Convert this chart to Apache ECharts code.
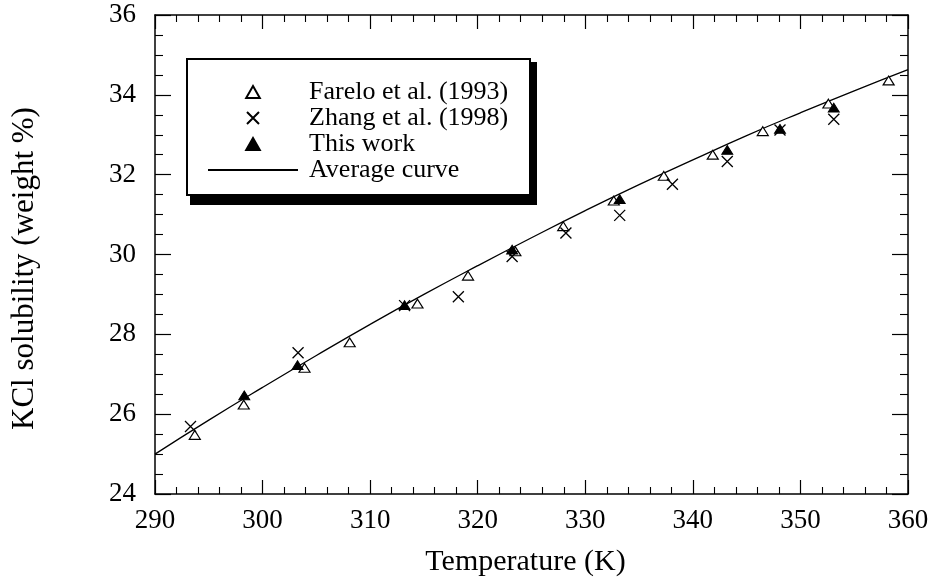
<!DOCTYPE html>
<html>
<head>
<meta charset="utf-8">
<script src="https://cdn.jsdelivr.net/npm/echarts@6/dist/echarts.min.js"></script>
<style>
  html, body { margin: 0; padding: 0; background: #fff; }
  #chart { width: 937px; height: 583px; }
</style>
</head>
<body>
<div id="chart"></div>
<script>
// KCl solubility in water versus temperature
const fareloT = [293.7, 298.25, 303.9, 308.1, 314.4, 319.1, 323.5, 327.95, 332.65, 337.3, 341.85, 346.5, 352.6, 358.2];
const fareloS = [25.48, 26.24, 27.16, 27.80, 28.77, 29.47, 30.08, 30.71, 31.35, 31.97, 32.50, 33.09, 33.78, 34.36];

const zhangT = [293.3, 303.3, 313.2, 318.2, 323.2, 328.2, 333.2, 338.1, 343.2, 348.1, 353.1];
const zhangS = [25.69, 27.54, 28.72, 28.94, 29.95, 30.54, 30.98, 31.76, 32.33, 33.12, 33.39];

const workT = [298.3, 303.25, 313.2, 323.2, 333.2, 343.2, 348.1, 353.1];
const workS = [26.47, 27.23, 28.73, 30.12, 31.39, 32.62, 33.15, 33.68];

const curveT = [290, 295, 300, 305, 310, 315, 320, 325, 330, 335, 340, 345, 350, 355, 360];
const curveS = [25.00, 25.85, 26.67, 27.47, 28.25, 29.00, 29.72, 30.42, 31.10, 31.75, 32.37, 32.98, 33.55, 34.10, 34.63];

const xTicks = [290, 300, 310, 320, 330, 340, 350, 360];
const yTicks = [24, 26, 28, 30, 32, 34, 36];

const seriesNames = ['Farelo et al. (1993)', 'Zhang et al. (1998)', 'This work', 'Average curve'];

const zip = (xs, ys) => xs.map((x, i) => [x, ys[i]]);

const FONT = '"Liberation Serif", "Times New Roman", serif';
const INK = '#000';
const TRIANGLE = 'path://M5,0L10,8.8L0,8.8Z';
const CROSS = 'path://M0,0L10,10M10,0L0,10';

const chart = echarts.init(document.getElementById('chart'), null, { renderer: 'canvas' });

const axisLine = { show: true, onZero: false, lineStyle: { color: INK, width: 1.5 } };
const xTick = { show: true, inside: true, length: 14, lineStyle: { color: INK, width: 1.2 } };
const xMinor = { show: true, splitNumber: 5, length: 7, lineStyle: { color: INK, width: 1.1 } };
const yTick = { show: true, inside: true, length: 16, lineStyle: { color: INK, width: 1.2 } };
const yMinor = { show: true, splitNumber: 4, length: 8, lineStyle: { color: INK, width: 1.1 } };

const xBase = {
  type: 'value',
  min: xTicks[0],
  max: xTicks[xTicks.length - 1],
  interval: xTicks[1] - xTicks[0],
  splitLine: { show: false },
  axisLine, axisTick: xTick, minorTick: xMinor
};
const yBase = {
  type: 'value',
  min: yTicks[0],
  max: yTicks[yTicks.length - 1],
  interval: yTicks[1] - yTicks[0],
  splitLine: { show: false },
  axisLine, axisTick: yTick, minorTick: yMinor
};

// legend frame with a solid offset shadow
const legendBox = { x: 187, y: 59, width: 343, height: 136 };

chart.setOption({
  animation: false,
  backgroundColor: '#fff',
  grid: { left: 155, right: 29, top: 15, bottom: 89, containLabel: false },
  graphic: [
    {
      type: 'rect', z: 10,
      shape: { x: legendBox.x + 3, y: legendBox.y + 3, width: legendBox.width + 4, height: legendBox.height + 7 },
      style: { fill: INK }
    },
    {
      type: 'rect', z: 11,
      shape: { x: legendBox.x, y: legendBox.y, width: legendBox.width, height: legendBox.height },
      style: { fill: '#fff', stroke: INK, lineWidth: 2 }
    }
  ],
  xAxis: [
    Object.assign({}, xBase, {
      position: 'bottom',
      name: 'Temperature (K)',
      nameLocation: 'middle',
      nameGap: 53,
      nameTextStyle: { fontFamily: FONT, fontSize: 30, color: INK, padding: [0, 12, 0, 0] },
      axisLabel: { fontFamily: FONT, fontSize: 27, color: INK, margin: 13 }
    }),
    Object.assign({}, xBase, { position: 'top', axisLabel: { show: false } })
  ],
  yAxis: [
    Object.assign({}, yBase, {
      position: 'left',
      name: 'KCl solubility (weight %)',
      nameLocation: 'middle',
      nameRotate: 90,
      nameGap: 115,
      nameTextStyle: { fontFamily: FONT, fontSize: 31, color: INK, padding: [0, 28, 0, 0] },
      axisLabel: { fontFamily: FONT, fontSize: 27, color: INK, margin: 19 }
    }),
    Object.assign({}, yBase, { position: 'right', axisLabel: { show: false } })
  ],
  legend: {
    orient: 'vertical',
    left: legendBox.x,
    top: legendBox.y,
    padding: [20, 20, 15, 20],
    itemWidth: 90,
    itemHeight: 12,
    itemGap: 0,
    z: 12,
    symbolKeepAspect: true,
    backgroundColor: 'rgba(0,0,0,0)',
    borderWidth: 0,
    selectedMode: false,
    textStyle: { fontFamily: FONT, fontSize: 26, lineHeight: 25, color: INK, padding: [0, 0, 0, 6] },
    data: seriesNames
  },
  series: [
    {
      name: seriesNames[3],
      type: 'line',
      data: zip(curveT, curveS),
      smooth: true,
      symbol: 'none',
      showSymbol: false,
      itemStyle: { color: 'rgba(0,0,0,0)', borderWidth: 0 },
      lineStyle: { color: INK, width: 1.3 },
      z: 1,
      silent: true
    },
    {
      name: seriesNames[0],
      type: 'scatter',
      data: zip(fareloT, fareloS),
      symbol: TRIANGLE,
      symbolSize: [11, 10],
      symbolKeepAspect: true,
      itemStyle: { color: '#fff', borderColor: INK, borderWidth: 1.2, opacity: 1 },
      z: 2,
      silent: true
    },
    {
      name: seriesNames[1],
      type: 'scatter',
      data: zip(zhangT, zhangS),
      symbol: CROSS,
      symbolSize: 11,
      symbolKeepAspect: true,
      itemStyle: { color: 'rgba(0,0,0,0)', borderColor: INK, borderWidth: 1.3, opacity: 1 },
      z: 3,
      silent: true
    },
    {
      name: seriesNames[2],
      type: 'scatter',
      data: zip(workT, workS),
      symbol: TRIANGLE,
      symbolSize: [11, 10],
      symbolKeepAspect: true,
      itemStyle: { color: INK, borderColor: INK, borderWidth: 1, opacity: 1 },
      z: 4,
      silent: true
    }
  ]
});
</script>
</body>
</html>
